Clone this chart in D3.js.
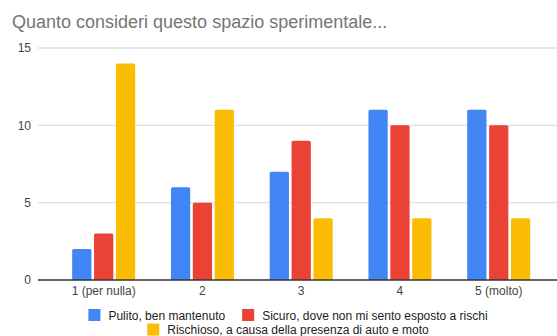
<!DOCTYPE html>
<html lang="it">
<head>
<meta charset="utf-8">
<title>Quanto consideri questo spazio sperimentale...</title>
<script src="https://cdn.jsdelivr.net/npm/d3@7"></script>
<style>
  body { margin: 0; background: #fff; }
  svg { display: block; font-family: "Liberation Sans", Arial, sans-serif; }
</style>
</head>
<body>
<div id="chart"></div>
<script>
  // Dati del grafico
  var categorie = ['1 (per nulla)', '2', '3', '4', '5 (molto)'];
  var serie = [
    'Pulito, ben mantenuto',
    'Sicuro, dove non mi sento esposto a rischi',
    'Rischioso, a causa della presenza di auto e moto'
  ];
  var pulito = [2, 6, 7, 11, 11];
  var sicuro = [3, 5, 9, 10, 10];
  var rischioso = [14, 11, 4, 4, 4];
  var tickY = [0, 5, 10, 15];
  var colori = ['#4285f4', '#ea4335', '#fbbc04'];

  var valori = [pulito, sicuro, rischioso];

  var width = 557,
      height = 336;

  var svg = d3.select('#chart').append('svg')
      .attr('width', width)
      .attr('height', height);

  // Titolo
  svg.append('text')
      .attr('x', 12)
      .attr('y', 28)
      .attr('font-size', 18)
      .attr('fill', '#757575')
      .text('Quanto consideri questo spazio sperimentale...');

  var y = d3.scaleLinear().domain([0, 15]).range([280, 48]);

  var x0 = d3.scaleBand().domain(categorie).range([54.3, 548.1]);
  var gruppo = 63;
  var x1 = d3.scaleBand().domain(d3.range(serie.length))
      .range([0, gruppo]).paddingInner(0.12);

  // Griglia orizzontale
  var asseY = d3.axisLeft(y).tickValues(tickY).tickSize(0).tickPadding(7);
  var gy = svg.append('g').attr('transform', 'translate(38,0)').call(asseY);
  gy.select('.domain').remove();
  gy.selectAll('text').attr('font-size', 12).attr('fill', '#444')
      .attr('font-family', null);
  svg.append('g').selectAll('line')
      .data(tickY.filter(function(d) { return d > 0; }))
      .enter().append('line')
      .attr('x1', 38).attr('x2', width)
      .attr('y1', function(d) { return y(d); })
      .attr('y2', function(d) { return y(d); })
      .attr('stroke', '#e0e0e0')
      .attr('stroke-width', 1.3);

  // Barre
  var gruppi = svg.append('g').selectAll('g')
      .data(categorie)
      .enter().append('g')
      .attr('transform', function(d) {
        return 'translate(' + (x0(d) + (x0.bandwidth() - gruppo) / 2) + ',0)';
      });

  gruppi.selectAll('path')
      .data(function(d, i) {
        return valori.map(function(v, s) { return { s: s, v: v[i] }; });
      })
      .enter().append('path')
      .attr('fill', function(d) { return colori[d.s]; })
      .attr('d', function(d) {
        var bx = x1(d.s), bw = x1.bandwidth(), top = y(d.v), base = y(0), r = 1.5;
        return 'M' + bx + ',' + base +
          'V' + (top + r) + 'Q' + bx + ',' + top + ' ' + (bx + r) + ',' + top +
          'H' + (bx + bw - r) + 'Q' + (bx + bw) + ',' + top + ' ' + (bx + bw) + ',' + (top + r) +
          'V' + base + 'Z';
      });

  // Asse X
  svg.append('line')
      .attr('x1', 38).attr('x2', width)
      .attr('y1', y(0)).attr('y2', y(0))
      .attr('stroke', '#333').attr('stroke-width', 1.3);

  svg.append('g').selectAll('text')
      .data(categorie)
      .enter().append('text')
      .attr('x', function(d) { return x0(d) + x0.bandwidth() / 2; })
      .attr('y', 295)
      .attr('text-anchor', 'middle')
      .attr('font-size', 12)
      .attr('fill', '#444')
      .text(function(d) { return d; });

  // Legenda su due righe
  var righe = [[0, 1], [2]];
  var centro = 288;
  righe.forEach(function(riga, r) {
    var g = svg.append('g');
    var cx = 0;
    riga.forEach(function(s, k) {
      g.append('rect')
          .attr('x', cx).attr('y', -6)
          .attr('width', 12).attr('height', 12)
          .attr('fill', colori[s]);
      var t = g.append('text')
          .attr('x', cx + 20).attr('y', 4.5)
          .attr('font-size', 12)
          .attr('fill', '#222')
          .text(serie[s]);
      cx += 20 + t.node().getComputedTextLength() + 17;
    });
    var w = cx - 17;
    g.attr('transform', 'translate(' + (centro - w / 2) + ',' + (315 + r * 14.5) + ')');
  });
</script>
</body>
</html>
